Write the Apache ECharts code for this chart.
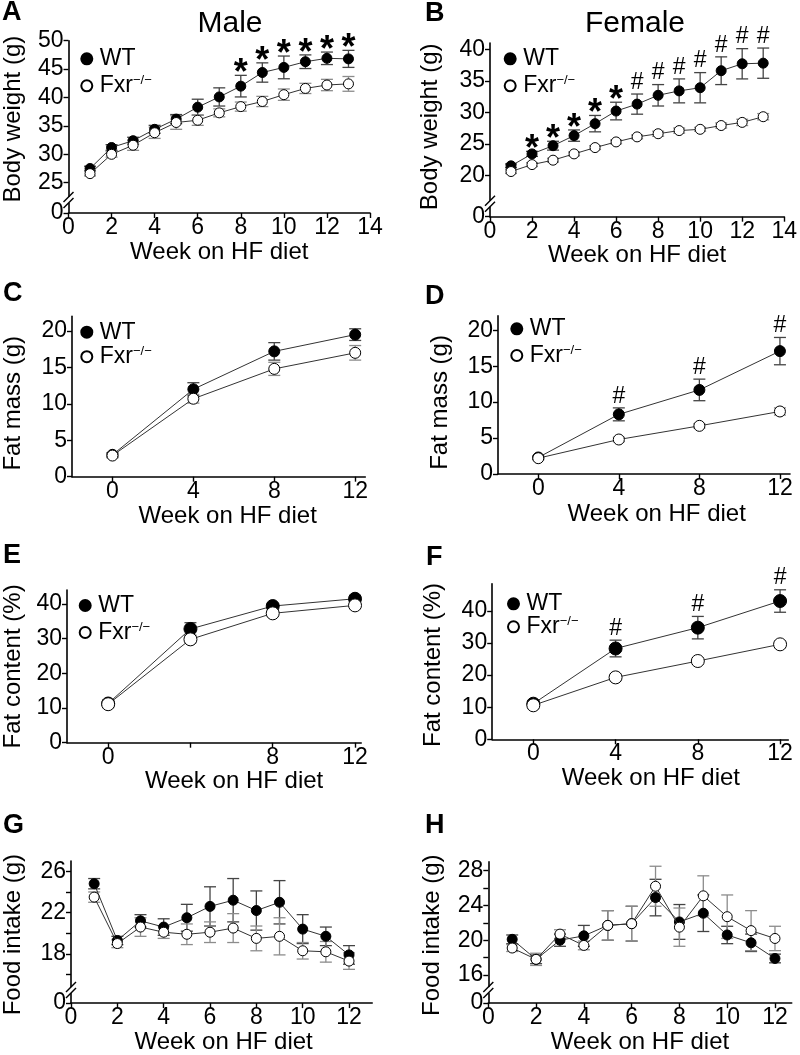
<!DOCTYPE html>
<html><head><meta charset="utf-8">
<script src="https://cdn.jsdelivr.net/npm/echarts@6/dist/echarts.min.js"></script>
<style>html,body{margin:0;padding:0;background:#fff}#c{width:800px;height:1055px}</style>
</head><body><div id="c"></div>
<script>
// ---------------- DATA ----------------
const weeksAB = [1,2,3,4,5,6,7,8,9,10,11,12,13];
const weeksCF = [0,4,8,12];
const weeksGH = [1,2,3,4,5,6,7,8,9,10,11,12];

const xTicksAB = [0,2,4,6,8,10,12,14];
const xTicksCF = [0,4,8,12];
const xLabelsE = [0,8,12];
const xTicksGH = [0,2,4,6,8,10,12];

// A: Male body weight
const A_wt    = [27.5,31.2,32.4,34.4,36.2,38.3,40.1,42.0,44.4,45.3,46.3,46.9,46.8];
const A_wtErr = [0.4,0.5,0.6,0.7,0.8,1.4,1.6,1.9,1.7,2.0,1.2,1.1,1.5];
const A_ko    = [26.6,30.0,31.6,33.8,35.6,36.0,37.3,38.4,39.3,40.5,41.6,42.2,42.4];
const A_koErr = [0.4,0.5,0.9,1.0,1.2,0.9,0.7,0.8,0.9,1.0,0.9,1.0,1.3];
const A_sig   = ['','','','','','','','*','*','*','*','*','*'];
const A_yTicks = [25,30,35,40,45,50];

// B: Female body weight
const B_wt    = [21.5,23.4,24.7,26.3,28.2,30.2,31.3,32.7,33.4,33.9,36.6,37.7,37.8];
const B_wtErr = [0.3,0.4,0.7,0.9,1.3,1.4,1.6,1.7,1.9,2.4,2.2,2.4,2.4];
const B_ko    = [20.6,21.7,22.4,23.4,24.4,25.3,26.1,26.6,27.1,27.3,27.9,28.4,29.3];
const B_koErr = [0.3,0.3,0.3,0.3,0.3,0.3,0.3,0.4,0.4,0.3,0.4,0.5,0.5];
const B_sig   = ['','*','*','*','*','*','#','#','#','#','#','#','#'];
const B_yTicks = [20,25,30,35,40];

// C: Male fat mass
const C_wt    = [3.0,12.0,17.2,19.5];
const C_wtErr = [0.3,0.9,1.2,0.8];
const C_ko    = [2.9,10.7,14.8,17.0];
const C_koErr = [0.3,0.6,0.9,1.0];
const C_sig   = ['','','',''];
const C_yTicks = [0,5,10,15,20];

// D: Female fat mass
const D_wt    = [2.3,8.3,11.7,17.1];
const D_wtErr = [0.2,0.9,1.5,1.9];
const D_ko    = [2.2,4.8,6.7,8.7];
const D_koErr = [0.2,0.3,0.3,0.5];
const D_sig   = ['','#','#','#'];
const D_yTicks = [0,5,10,15,20];

// E: Male fat content
const E_wt    = [11.3,32.8,39.4,41.5];
const E_wtErr = [1.0,1.8,0.8,0.8];
const E_ko    = [11.1,29.8,37.3,39.6];
const E_koErr = [1.0,1.0,0.8,0.8];
const E_sig   = ['','','',''];
const E_yTicks = [0,10,20,30,40];

// F: Female fat content
const F_wt    = [11.1,28.3,34.8,43.1];
const F_wtErr = [1.0,2.6,3.5,3.5];
const F_ko    = [10.6,19.3,24.4,29.6];
const F_koErr = [1.0,1.0,1.0,1.0];
const F_sig   = ['','#','#','#'];
const F_yTicks = [0,10,20,30,40];

// G: Male food intake
const G_wt    = [24.8,19.3,21.2,20.6,21.5,22.6,23.2,22.2,23.0,20.4,19.7,17.9];
const G_wtErr = [0.5,0.4,0.6,0.8,1.3,1.9,2.1,1.9,2.1,1.4,0.9,0.9];
const G_ko    = [23.5,19.0,20.6,20.1,19.9,20.1,20.5,19.5,19.7,18.3,18.2,17.3];
const G_koErr = [0.5,0.4,0.9,0.6,1.0,1.0,1.4,1.2,1.8,0.8,1.0,0.8];
const G_yLabels = [18,22,26];
const G_yTicks  = [16,18,20,22,24,26];

// H: Female food intake
const H_wt    = [20.1,17.8,20.0,20.5,21.7,21.9,24.9,22.1,23.1,20.6,19.7,17.9];
const H_wtErr = [0.5,0.5,0.7,1.2,1.7,2.0,2.1,2.0,2.1,1.0,1.0,0.5];
const H_ko    = [19.1,17.8,20.7,19.4,21.7,21.9,26.2,21.5,25.1,22.7,21.1,20.2];
const H_koErr = [0.4,0.7,0.5,0.5,1.7,2.0,2.3,2.2,2.3,2.5,2.3,1.4];
const H_yLabels = [16,20,24,28];
const H_yTicks  = [16,18,20,22,24,26,28];

const panelLetters = ['A','B','C','D','E','F','G','H'];
const sexTitles = ['Male','Female'];
const xName = 'Week on HF diet';
const yNames = ['Body weight (g)','Body weight (g)','Fat mass (g)','Fat mass (g)','Fat content (%)','Fat content (%)','Food intake (g)','Food intake (g)'];

// ---------------- LAYOUT ----------------
const FONT = "'Liberation Sans', Arial, Helvetica, sans-serif";
const TICK_FS = 23;
const panels = [
  {x:weeksAB, wt:A_wt, wtErr:A_wtErr, ko:A_ko, koErr:A_koErr, sig:A_sig,
   grid:{left:68,top:40.7,width:302,height:172.3}, xMin:0,xMax:14, xLabels:xTicksAB, xTicks:xTicksAB,
   yMin:19.67,yMax:50, yLabels:A_yTicks, yTicks:A_yTicks, brk:true,
   xGap:27,xShift:0, yGap:43.5,yShift:-7.7, legend:{cx:83.3,cy:53.3,gap:4}, sym:10},
  {x:weeksAB, wt:B_wt, wtErr:B_wtErr, ko:B_ko, koErr:B_koErr, sig:B_sig,
   grid:{left:490,top:43,width:300.7,height:173.7}, xMin:0,xMax:14, xLabels:xTicksAB, xTicks:xTicksAB,
   yMin:13.43,yMax:41, yLabels:B_yTicks, yTicks:B_yTicks, brk:true,
   xGap:25,xShift:0, yGap:48,yShift:-3, legend:{cx:506.7,cy:53.3,gap:4}, sym:10},
  {x:weeksCF, wt:C_wt, wtErr:C_wtErr, ko:C_ko, koErr:C_koErr, sig:C_sig,
   grid:{left:69.2,top:316.4,width:296.1,height:160.3}, xMin:-2,xMax:12.5, xLabels:xTicksCF, xTicks:xTicksCF,
   yMin:0,yMax:22, yLabels:C_yTicks, yTicks:C_yTicks, brk:false,
   xGap:28,xShift:9, yGap:47,yShift:6.7, legend:{cx:83.3,cy:326.7,gap:1.5}, sym:11},
  {x:weeksCF, wt:D_wt, wtErr:D_wtErr, ko:D_ko, koErr:D_koErr, sig:D_sig,
   grid:{left:498,top:315.9,width:292,height:158.1}, xMin:-2,xMax:12.5, xLabels:xTicksCF, xTicks:xTicksCF,
   yMin:0,yMax:22, yLabels:D_yTicks, yTicks:D_yTicks, brk:false,
   xGap:28,xShift:12.7, yGap:46,yShift:7.5, legend:{cx:513.3,cy:323.3,gap:3.7}, sym:11},
  {x:weeksCF, wt:E_wt, wtErr:E_wtErr, ko:E_ko, koErr:E_koErr, sig:E_sig,
   grid:{left:65.3,top:590.1,width:295.9,height:152.6}, xMin:-2,xMax:12.3, xLabels:xLabelsE, xTicks:xTicksCF,
   yMin:0,yMax:44, yLabels:E_yTicks, yTicks:E_yTicks, brk:false,
   xGap:26,xShift:20, yGap:42,yShift:0, legend:{cx:81.7,cy:600,gap:4}, sym:13},
  {x:weeksCF, wt:F_wt, wtErr:F_wtErr, ko:F_ko, koErr:F_koErr, sig:F_sig,
   grid:{left:492.2,top:583.7,width:296.1,height:155.6}, xMin:-2,xMax:12.4, xLabels:xTicksCF, xTicks:xTicksCF,
   yMin:0,yMax:48.5, yLabels:F_yTicks, yTicks:F_yTicks, brk:false,
   xGap:26,xShift:10.6, yGap:47,yShift:3.5, legend:{cx:510,cy:598.3,gap:0}, sym:13},
  {x:weeksGH, wt:G_wt, wtErr:G_wtErr, ko:G_ko, koErr:G_koErr, sig:null,
   grid:{left:70,top:861,width:302.2,height:147.3}, xMin:0,xMax:13, xLabels:xTicksGH, xTicks:xTicksGH,
   yMin:13.23,yMax:27, yLabels:G_yLabels, yTicks:G_yTicks, brk:true,
   xGap:23.6,xShift:2, yGap:46,yShift:2.6, legend:null, sym:10},
  {x:weeksGH, wt:H_wt, wtErr:H_wtErr, ko:H_ko, koErr:H_koErr, sig:null,
   grid:{left:488.3,top:861.9,width:303.4,height:147.4}, xMin:0,xMax:12.7, xLabels:xTicksGH, xTicks:xTicksGH,
   yMin:12.77,yMax:29, yLabels:H_yLabels, yTicks:H_yTicks, brk:true,
   xGap:22.6,xShift:0, yGap:44,yShift:2.7, legend:null, sym:10}
];
const letterPos = [[2,13],[425,14],[3,294],[425,296.7],[3,556],[426,557.5],[3,826],[425,826]];
const titlePos = [[230,24],[635,24]];

function shiftPad(s){ return s>=0 ? [0,0,0,2*s] : [0,-2*s,0,0]; }

const grids=[], xAxes=[], yAxes=[], series=[], legends=[];
panels.forEach((p,i)=>{
  grids.push(Object.assign({containLabel:false}, p.grid));
  xAxes.push({type:'value', gridIndex:i, min:p.xMin, max:p.xMax,
    axisLine:{show:true,onZero:false,lineStyle:{color:'#000',width:1.6}},
    axisTick:{show:true,length:5,lineStyle:{color:'#000',width:1.4},customValues:p.xTicks},
    axisLabel:{customValues:p.xLabels,fontSize:TICK_FS,color:'#000',margin:3,fontFamily:FONT},
    splitLine:{show:false},
    name:xName, nameLocation:'middle', nameGap:p.xGap,
    nameTextStyle:{fontSize:24,color:'#000',fontFamily:FONT,padding:shiftPad(p.xShift)}
  });
  const yl = p.brk ? [p.yMin].concat(p.yLabels) : p.yLabels;
  const yt = p.brk ? [p.yMin].concat(p.yTicks) : p.yTicks;
  yAxes.push({type:'value', gridIndex:i, min:p.yMin, max:p.yMax,
    axisLine:{show:true,onZero:false,lineStyle:{color:'#000',width:1.6}},
    axisTick:{show:true,length:5,lineStyle:{color:'#000',width:1.4},customValues:yt},
    axisLabel:{customValues:yl,fontSize:TICK_FS,color:'#000',margin:5,fontFamily:FONT,
      formatter:(v)=> (p.brk && Math.abs(v-p.yMin)<1e-6) ? '0' : String(v)},
    splitLine:{show:false},
    name:yNames[i], nameLocation:'middle', nameGap:p.yGap,
    nameTextStyle:{fontSize:24,color:'#000',fontFamily:FONT,padding:shiftPad(-p.yShift)}
  });
  const mkErr = (vals, errs, color) => ({
    type:'custom', xAxisIndex:i, yAxisIndex:i, z:2, silent:true,
    data: p.x.map((x,j)=>[x, vals[j], errs[j]]),
    renderItem:(params, api)=>{
      const x=api.value(0), m=api.value(1), e=api.value(2);
      const t=api.coord([x,m+e]), b=api.coord([x,m-e]);
      const w=6, st={stroke:color,lineWidth:1.3};
      return {type:'group', children:[
        {type:'line',shape:{x1:t[0],y1:t[1],x2:b[0],y2:b[1]},style:st},
        {type:'line',shape:{x1:t[0]-w,y1:t[1],x2:t[0]+w,y2:t[1]},style:st},
        {type:'line',shape:{x1:b[0]-w,y1:b[1],x2:b[0]+w,y2:b[1]},style:st}
      ]};
    }
  });
  series.push(mkErr(p.wt, p.wtErr, '#444'));
  series.push(mkErr(p.ko, p.koErr, '#8c8c8c'));
  series.push({type:'line', name:'WT', xAxisIndex:i, yAxisIndex:i, z:3, silent:true,
    data:p.x.map((x,j)=>[x,p.wt[j]]), symbol:'circle', symbolSize:p.sym,
    itemStyle:{color:'#000',borderColor:'#000',borderWidth:1},
    lineStyle:{color:'#333',width:1}, emphasis:{disabled:true}});
  series.push({type:'line', name:'Fxr', xAxisIndex:i, yAxisIndex:i, z:4, silent:true,
    data:p.x.map((x,j)=>[x,p.ko[j]]), symbol:'circle', symbolSize:p.sym,
    itemStyle:{color:'#fff',borderColor:'#000',borderWidth:1},
    lineStyle:{color:'#333',width:1}, emphasis:{disabled:true}});
  if (p.sig) {
    const sd = []; const ss = [];
    p.x.forEach((x,j)=>{ if (p.sig[j]) { sd.push([x, p.wt[j]+p.wtErr[j]]); ss.push(p.sig[j]); } });
    series.push({type:'custom', xAxisIndex:i, yAxisIndex:i, z:5, silent:true, data:sd,
      renderItem:(params, api)=>{
        const c = api.coord([api.value(0), api.value(1)]);
        const s = ss[params.dataIndex];
        const star = s==='*';
        return {type:'text', x:c[0], y: star ? c[1]-1 : c[1]-11.7,
          style:{text:s, fontSize: star?36:23, fontWeight: star?'bold':'normal', fontFamily:FONT,
            fill:'#000', align:'center', verticalAlign:'middle'}};
      }});
  }
  if (p.legend) {
    legends.push({orient:'vertical', left:p.legend.cx-8, top:p.legend.cy-11, itemGap:p.legend.gap,
      itemWidth:16, itemHeight:11, icon:'circle', selectedMode:false, data:['WT','Fxr'],
      formatter:(n)=> n==='Fxr' ? '{b|Fxr}{s|−/−}' : '{b|WT}',
      textStyle:{fontFamily:FONT, color:'#000', fontSize:23,
        rich:{b:{fontSize:23,fontFamily:FONT,color:'#000'}, s:{fontSize:13,fontFamily:FONT,color:'#000',verticalAlign:'top'}}}
    });
  }
});

const chart = echarts.init(document.getElementById('c'), null, {renderer:'canvas'});
chart.setOption({animation:false, backgroundColor:'#fff', grid:grids, xAxis:xAxes, yAxis:yAxes, series:series, legend:legends});

const gfx = [];
panelLetters.forEach((L,i)=>gfx.push({type:'text', x:letterPos[i][0], y:letterPos[i][1],
  style:{text:L, fontSize:27, fontWeight:'bold', fontFamily:FONT, fill:'#000', align:'left', verticalAlign:'middle'}}));
sexTitles.forEach((t,i)=>gfx.push({type:'text', x:titlePos[i][0], y:titlePos[i][1],
  style:{text:t, fontSize:30, fontFamily:FONT, fill:'#000', align:'center', verticalAlign:'middle'}}));
panels.forEach((p,i)=>{
  if (!p.brk) return;
  const ax = chart.convertToPixel({xAxisIndex:i}, p.xMin);
  const ay = chart.convertToPixel({yAxisIndex:i}, p.yMin);
  const yc = ay - 13;
  gfx.push({type:'rect', shape:{x:ax-3,y:yc-3,width:6,height:6}, style:{fill:'#fff'}, z:50});
  [-3,3].forEach(d=>gfx.push({type:'line', shape:{x1:ax-5,y1:yc+d+5,x2:ax+5,y2:yc+d-5},
    style:{stroke:'#000',lineWidth:1.4}, z:51}));
});
chart.setOption({graphic:gfx});
</script></body></html>
